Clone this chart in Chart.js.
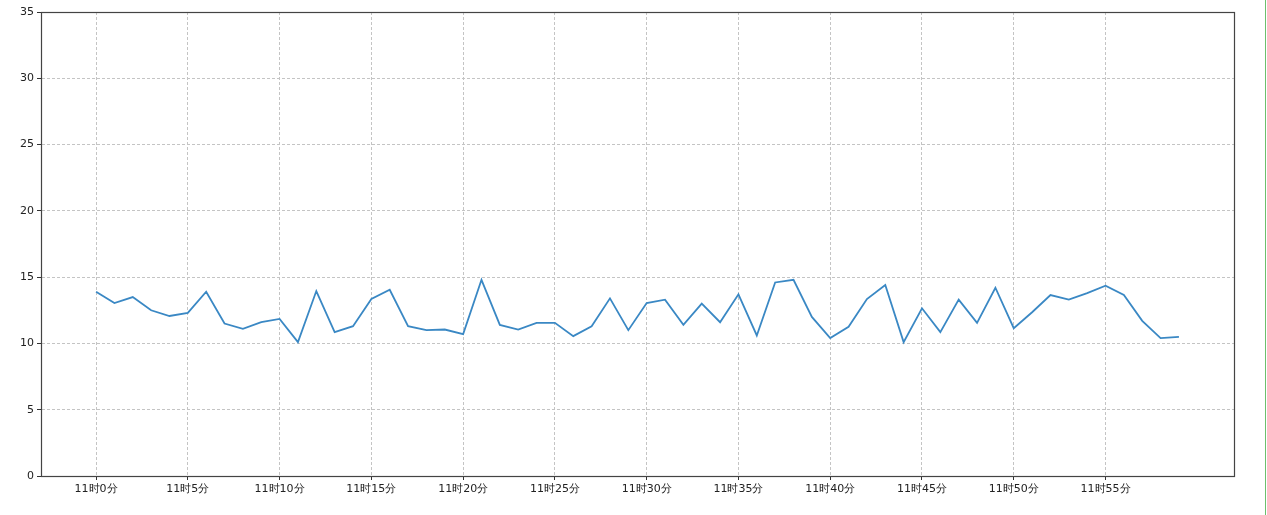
<!DOCTYPE html>
<html>
<head>
<meta charset="utf-8">
<script src="https://cdn.jsdelivr.net/npm/chart.js@4/dist/chart.umd.min.js"></script>
<style>
  html, body { margin: 0; padding: 0; background: #fff; }
  #wrap { position: relative; width: 1267px; height: 515px; }
  #edge { position: absolute; left: 1265px; top: 0; width: 1px; height: 515px; background: #6cbf6c; }
</style>
</head>
<body>
<div id="wrap">
  <canvas id="lineChart" width="1267" height="515"></canvas>
  <div id="edge"></div>
</div>
<script>
// minute index on the x axis
const minutes = [...Array(60).keys()];
const values = [
  13.9, 13.05, 13.5, 12.5, 12.07, 12.3, 13.9, 11.5, 11.1, 11.6,
  11.85, 10.1, 13.95, 10.85, 11.3, 13.35, 14.05, 11.3, 11.0, 11.05,
  10.7, 14.8, 11.4, 11.05, 11.55, 11.55, 10.55, 11.3, 13.4, 11.0,
  13.05, 13.3, 11.4, 13.0, 11.6, 13.7, 10.6, 14.6, 14.8, 12.0,
  10.4, 11.25, 13.35, 14.4, 10.1, 12.65, 10.85, 13.3, 11.55, 14.2,
  11.15, 12.35, 13.65, 13.3, 13.8, 14.35, 13.65, 11.7, 10.4, 10.5
];
const xTicks = [0, 5, 10, 15, 20, 25, 30, 35, 40, 45, 50, 55];
const yTicks = [0, 5, 10, 15, 20, 25, 30, 35];

const frame = {
  id: 'frame',
  afterDraw(c) {
    const a = c.chartArea, ctx = c.ctx;
    ctx.save();
    ctx.strokeStyle = '#444';
    ctx.lineWidth = 1.2;
    ctx.strokeRect(Math.round(a.left) + 0.5, Math.round(a.top) + 0.5, Math.round(a.right - a.left), Math.round(a.bottom - a.top));
    ctx.restore();
  }
};

const font = { family: 'DejaVu Sans', size: 11 };

new Chart(document.getElementById('lineChart'), {
  type: 'line',
  data: {
    datasets: [{
      data: minutes.map((m, i) => ({ x: m, y: values[i] })),
      borderColor: '#3a88c4',
      borderWidth: 1.8,
      pointRadius: 0,
      tension: 0,
      fill: false
    }]
  },
  options: {
    responsive: false,
    animation: false,
    layout: { padding: { top: 12, right: 33, left: 0, bottom: 0 } },
    plugins: { legend: { display: false }, tooltip: { enabled: false } },
    scales: {
      x: {
        type: 'linear',
        min: -3.0,
        max: 62.0,
        afterBuildTicks: s => { s.ticks = xTicks.map(v => ({ value: v })); },
        afterFit: s => { s.height = 39; },
        ticks: {
          autoSkip: false,
          maxRotation: 0,
          color: '#222',
          font: font,
          padding: 3,
          callback: v => '11时' + v + '分'
        },
        grid: { color: '#c4c4c4', tickColor: '#333', tickLength: 4, lineWidth: 1 },
        border: { display: true, color: '#444', dash: [3, 2] }
      },
      y: {
        min: 0,
        max: 35,
        afterBuildTicks: s => { s.ticks = yTicks.map(v => ({ value: v })); },
        afterFit: s => { s.width = 41; },
        ticks: { color: '#222', font: font, padding: 3 },
        grid: { color: '#c4c4c4', tickColor: '#333', tickLength: 4, lineWidth: 1 },
        border: { display: true, color: '#444', dash: [3, 2] }
      }
    }
  },
  plugins: [frame]
});
</script>
</body>
</html>
